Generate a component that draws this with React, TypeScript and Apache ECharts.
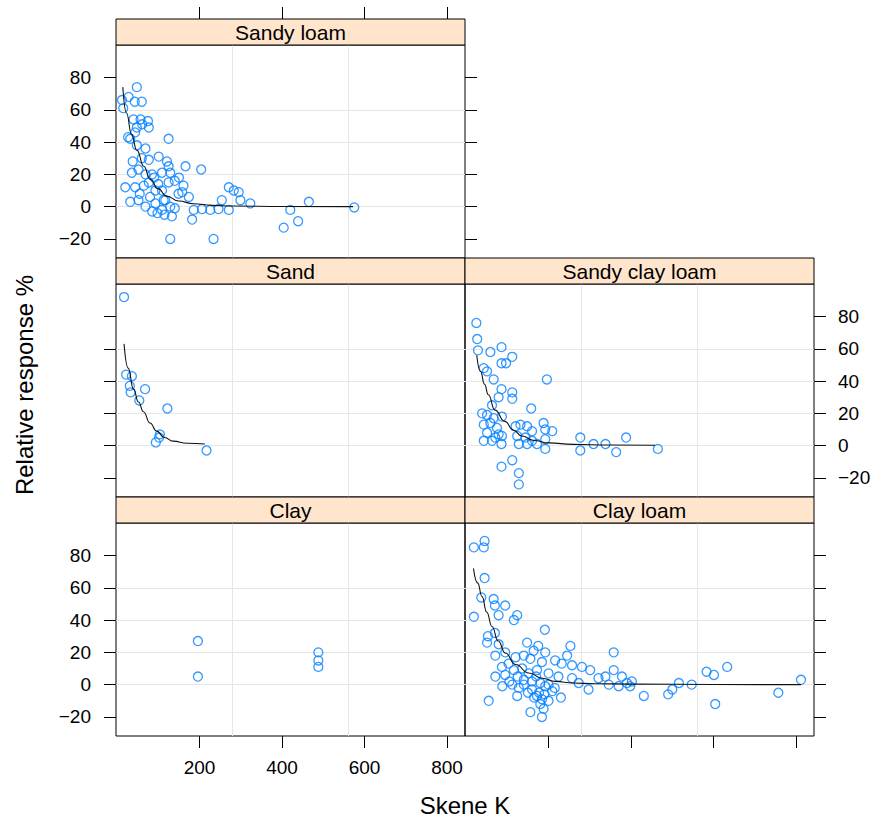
import React, { useEffect, useRef } from "react";
import * as echarts from "echarts";

// ---------- data ----------
const panelNames = ["Sandy loam", "Sand", "Sandy clay loam", "Clay", "Clay loam"];

const xTicks = [200, 400, 600, 800];
const yTicks = [-20, 0, 20, 40, 60, 80];

const sandyLoamPts: number[][] = [
  [48, 74], [12, 66], [28, 68], [43, 65], [60, 65], [15, 61],
  [40, 54], [57, 54], [75, 53], [77, 49], [48, 49], [61, 51],
  [125, 42], [27, 43], [32, 42], [44, 46], [69, 36], [48, 38],
  [101, 31], [121, 28], [77, 29], [166, 25], [204, 23],
  [36, 21], [52, 23], [69, 20], [85, 20], [109, 21], [129, 21], [125, 25],
  [20, 12], [44, 12], [65, 13], [77, 15], [93, 10], [109, 10], [125, 15], [149, 8], [161, 13], [174, 6], [158, 9],
  [32, 3], [52, 4], [69, 0], [85, -3], [109, -2], [129, 0], [133, -6], [117, 4], [93, 2],
  [186, -2], [206, -1.5], [226, -2], [246, -1.5], [271, -2], [254, 4], [271, 12], [283, 10], [295, 9], [299, 4], [323, 2],
  [182, -8], [129, -20], [234, -20], [420, -2], [404, -13], [439, -9], [465, 3], [575, -0.5],
  [55, 8], [80, 6], [100, 14], [140, 16], [60, 30], [90, 18], [38, 28], [113, 4], [140, -1], [150, 18], [98, -4], [115, -5],
];

const sandPts: number[][] = [
  [17, 92], [22, 44], [36, 43], [31, 37], [33, 33], [54, 28], [68, 35], [122, 23], [104, 7], [94, 2], [102, 5], [217, -3],
];

const sandyClayLoamPts: number[][] = [
  [25, 76], [27, 66], [29, 59], [59, 58], [86, 61], [112, 55], [86, 51], [97, 51], [43, 48], [51, 46], [67, 41], [196, 41],
  [86, 35], [112, 33], [79, 30], [112, 29], [63, 25], [158, 23],
  [39, 20], [51, 19], [67, 17], [87, 18], [43, 13], [59, 14], [75, 11], [51, 8], [79, 7], [87, 6], [43, 3], [63, 3], [86, 1], [71, 5],
  [120, 12], [132, 13], [148, 12], [160, 9], [188, 14], [192, 10], [209, 9], [124, 6], [144, 5], [160, 3], [192, 4], [192, -2], [128, 1], [148, 1], [172, 1],
  [277, 5], [277, -3], [309, 1], [338, 1], [364, -4], [388, 5], [465, -2],
  [112, -9], [86, -13], [128, -17], [128, -24],
];

const clayPts: number[][] = [
  [196, 27], [196, 5], [488, 20], [488, 15], [488, 11],
];

const clayLoamPts: number[][] = [
  [19, 85], [45, 89], [43, 85], [45, 66], [37, 54], [67, 53], [70, 49], [95, 49], [79, 43], [124, 43], [116, 40], [19, 42],
  [191, 34], [53, 30], [70, 32], [51, 26], [79, 25], [71, 18], [95, 20], [148, 26], [175, 24], [253, 24], [245, 18], [192, 20],
  [120, 17], [140, 18], [156, 16], [164, 21], [184, 14], [216, 15], [232, 13], [257, 12], [281, 11], [301, 9],
  [87, 11], [103, 13], [116, 9], [136, 10], [152, 7], [172, 9], [200, 7], [224, 5], [257, 4], [273, 1], [297, -3],
  [71, 5], [95, 6], [112, 0], [128, -2], [140, 3], [160, 2], [180, 1], [160, -3], [177, -5], [192, -1], [209, -4],
  [172, -7], [184, -9], [180, -12], [200, -10], [188, -15], [156, -17], [184, -20], [55, -10], [124, -7],
  [140, 0], [150, -5], [165, -8], [190, -6], [200, 0], [215, -2], [125, 5], [105, 2], [88, -1], [230, -8], [170, 5],
  [321, 4], [338, 5], [358, 20], [358, 9], [378, 5], [346, 0], [370, -1], [390, 1], [402, 2], [398, -1],
  [431, -7], [490, -6], [500, -3], [516, 1], [547, 0], [583, 8], [601, 6], [633, 11], [604, -12], [757, -5], [812, 3],
];

const sandyLoamFit: number[][] = [
  [14, 74], [23, 58], [35, 45], [48, 35], [65, 25], [80, 17], [100, 11], [120, 6.5], [150, 3.5], [185, 1.8], [230, 0.8], [282, 0.4], [400, 0.1], [572, 0],
];
const sandFit: number[][] = [
  [17, 63], [27, 48], [40, 35], [52, 27], [64, 21], [80, 14], [96, 9], [115, 5], [136, 2.8], [170, 1.5], [213, 1],
];
const sandyClayLoamFit: number[][] = [
  [26, 56], [35, 46], [45, 38], [54, 31.5], [70, 22], [94, 15], [115, 9.5], [135, 6], [165, 3.2], [200, 1.7], [260, 0.8], [350, 0.4], [458, 0.2],
];
const clayLoamFit: number[][] = [
  [18, 72], [28, 63], [39, 54.5], [50, 45], [63, 36], [78, 27], [95, 19.6], [120, 12.5], [152, 7.2], [185, 4], [216, 2], [260, 1], [313, 0.6], [410, 0.3], [600, 0.1], [812, 0],
];

const X_MIN = -2.5;
const X_MAX = 843.5;
const Y_MIN = -31.8;
const Y_MAX = 100.1;

// ---------- layout / style ----------
const FONT = "'Liberation Sans', Arial, sans-serif";
const GRID_COLOR = "#e6e6e6";
const PW = 349;
const PH = 213;
const SH = 26;
const layout = [
  { left: 116, top: 45 },
  { left: 116, top: 284 },
  { left: 465, top: 284 },
  { left: 116, top: 523 },
  { left: 465, top: 523 },
];
const axesCfg = [
  { leftTicks: true, leftLabels: true, rightTicks: true, rightLabels: false, bottomTicks: false, bottomLabels: false, topTicks: true },
  { leftTicks: true, leftLabels: false, rightTicks: false, rightLabels: false, bottomTicks: false, bottomLabels: false, topTicks: false },
  { leftTicks: false, leftLabels: false, rightTicks: true, rightLabels: true, bottomTicks: false, bottomLabels: false, topTicks: false },
  { leftTicks: true, leftLabels: true, rightTicks: false, rightLabels: false, bottomTicks: true, bottomLabels: true, topTicks: false },
  { leftTicks: false, leftLabels: false, rightTicks: true, rightLabels: false, bottomTicks: true, bottomLabels: false, topTicks: false },
];
const pointSets = [sandyLoamPts, sandPts, sandyClayLoamPts, clayPts, clayLoamPts];
const fitSets: (number[][] | null)[] = [sandyLoamFit, sandFit, sandyClayLoamFit, null, clayLoamFit];

const fmt = (v: number) => (v < 0 ? "\u2212" + Math.abs(v) : String(v));

function buildOption() {
  const tickLine = { color: "#000", width: 1 };
  const labelBase = { fontSize: 19, color: "#000", fontFamily: FONT };
  const hiddenLine = { show: false, onZero: false };
  const grid: any[] = [];
  const xAxis: any[] = [];
  const yAxis: any[] = [];
  const series: any[] = [];
  const graphic: any[] = [];

  panelNames.forEach((name, i) => {
    const L = layout[i];
    const c = axesCfg[i];
    grid.push({
      left: L.left, top: L.top, width: PW, height: PH,
      show: true, borderColor: "#000", borderWidth: 1, backgroundColor: "rgba(0,0,0,0)",
      containLabel: false,
    });

    const mainX = xAxis.length;
    xAxis.push({
      type: "value", gridIndex: i, min: X_MIN, max: X_MAX, position: "bottom",
      axisLine: hiddenLine,
      axisTick: { show: c.bottomTicks, length: 12, inside: false, customValues: xTicks, lineStyle: tickLine },
      axisLabel: { show: c.bottomLabels, customValues: xTicks, margin: 22, ...labelBase },
      splitLine: { show: false },
    });
    xAxis.push({
      type: "value", gridIndex: i, min: X_MIN, max: X_MAX, interval: (X_MAX - X_MIN) / 3, position: "bottom",
      axisLine: hiddenLine, axisTick: { show: false }, axisLabel: { show: false },
      splitLine: { show: true, showMinLine: false, showMaxLine: false, lineStyle: { color: GRID_COLOR, width: 1 } },
    });
    if (c.topTicks) {
      xAxis.push({
        type: "value", gridIndex: i, min: X_MIN, max: X_MAX, position: "top", offset: SH,
        axisLine: hiddenLine,
        axisTick: { show: true, length: 12, customValues: xTicks, lineStyle: tickLine },
        axisLabel: { show: false, customValues: xTicks },
        splitLine: { show: false },
      });
    }

    const mainY = yAxis.length;
    yAxis.push({
      type: "value", gridIndex: i, min: Y_MIN, max: Y_MAX, position: "left",
      axisLine: hiddenLine,
      axisTick: { show: c.leftTicks, length: 12, customValues: yTicks, lineStyle: tickLine },
      axisLabel: { show: c.leftLabels, customValues: yTicks, margin: 25, formatter: fmt, ...labelBase },
      splitLine: { show: true, showMinLine: false, showMaxLine: false, lineStyle: { color: GRID_COLOR, width: 1 } },
    });
    if (c.rightTicks) {
      yAxis.push({
        type: "value", gridIndex: i, min: Y_MIN, max: Y_MAX, position: "right",
        axisLine: hiddenLine,
        axisTick: { show: true, length: 12, customValues: yTicks, lineStyle: tickLine },
        axisLabel: { show: c.rightLabels, customValues: yTicks, margin: 24, formatter: fmt, ...labelBase },
        splitLine: { show: false },
      });
    }

    series.push({
      type: "scatter", name: name, xAxisIndex: mainX, yAxisIndex: mainY,
      data: pointSets[i], symbol: "circle", symbolSize: 9, silent: true,
      itemStyle: { color: "rgba(0,0,0,0)", borderColor: "#0080ff", borderWidth: 1.3 },
      z: 2,
    });
    const fit = fitSets[i];
    if (fit) {
      series.push({
        type: "line", name: name + " fit", xAxisIndex: mainX, yAxisIndex: mainY,
        data: fit, symbol: "none", showSymbol: false, smooth: true, smoothMonotone: "x", silent: true,
        lineStyle: { color: "#111", width: 1.1 }, z: 3,
      });
    }

    graphic.push({
      type: "rect", silent: true, z: 10,
      shape: { x: L.left, y: L.top - SH, width: PW, height: SH },
      style: { fill: "#ffe5cc", stroke: "#000", lineWidth: 1 },
    });
    graphic.push({
      type: "text", silent: true, z: 11,
      x: L.left + PW / 2, y: L.top - SH / 2,
      style: {
        text: name, x: 0, y: 0, fontSize: 21, fontFamily: FONT, fill: "#000",
        align: "center", verticalAlign: "middle", textAlign: "center", textVerticalAlign: "middle",
      },
    });
  });

  graphic.push({
    type: "text", silent: true, x: 24, y: 385, rotation: Math.PI / 2,
    style: {
      text: "Relative response %", x: 0, y: 0, fontSize: 24, fontFamily: FONT, fill: "#000",
      align: "center", verticalAlign: "middle", textAlign: "center", textVerticalAlign: "middle",
    },
  });
  graphic.push({
    type: "text", silent: true, x: 465, y: 805,
    style: {
      text: "Skene K", x: 0, y: 0, fontSize: 24, fontFamily: FONT, fill: "#000",
      align: "center", verticalAlign: "middle", textAlign: "center", textVerticalAlign: "middle",
    },
  });

  return {
    animation: false,
    backgroundColor: "#fff",
    textStyle: { fontFamily: FONT },
    grid, xAxis, yAxis, series, graphic,
  };
}

export default function App() {
  const ref = useRef<HTMLDivElement>(null);
  useEffect(() => {
    if (!ref.current) return;
    const chart = echarts.init(ref.current, null, { renderer: "svg", width: 875, height: 823 });
    chart.setOption(buildOption());
    return () => chart.dispose();
  }, []);
  return (
    <div
      ref={ref}
      style={{ position: "absolute", left: 0, top: 0, width: 875, height: 823, background: "#fff" }}
    />
  );
}
